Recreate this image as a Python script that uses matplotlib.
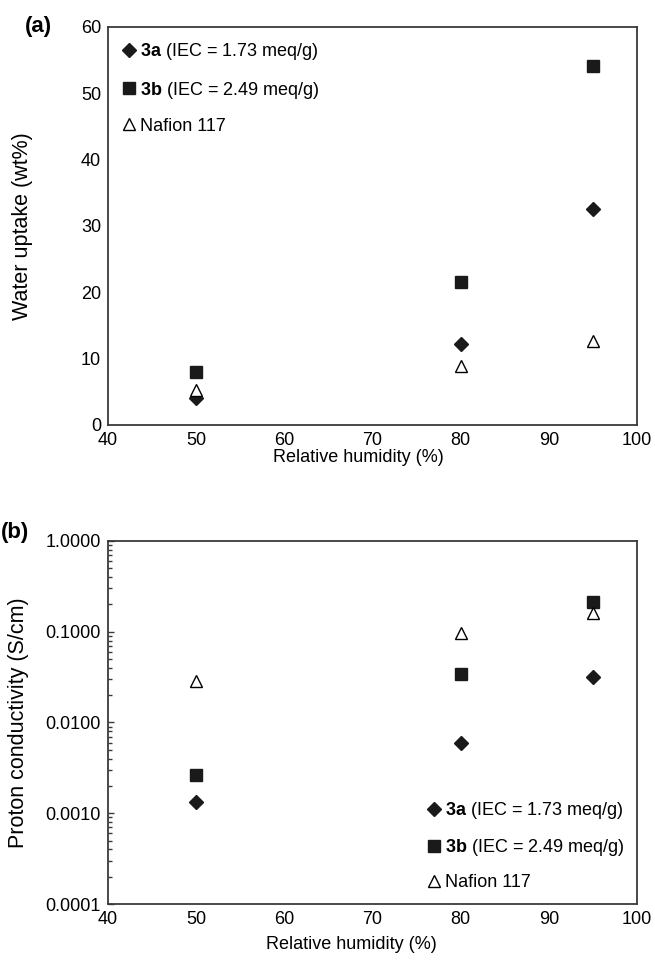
import numpy as np
import matplotlib.pyplot as plt
from matplotlib.ticker import LogLocator, FormatStrFormatter, NullFormatter

plt.rcParams['font.family'] = ['Liberation Sans', 'DejaVu Sans']
plt.rcParams['mathtext.fontset'] = 'custom'
plt.rcParams['mathtext.rm'] = 'Liberation Sans'
plt.rcParams['mathtext.bf'] = 'Liberation Sans:bold'

rh = [50, 80, 95]
# (a) water uptake (wt%)
wu_3a = [4.0, 12.2, 32.6]
wu_3b = [8.0, 21.6, 54.1]
wu_naf = [5.2, 8.9, 12.6]
# (b) proton conductivity (S/cm)
pc_3a = [0.00133, 0.0060, 0.0318]
pc_3b = [0.00262, 0.0346, 0.215]
pc_naf = [0.0285, 0.098, 0.16]

labels = [r'$\mathbf{3a}$ (IEC = 1.73 meq/g)',
          r'$\mathbf{3b}$ (IEC = 2.49 meq/g)',
          'Nafion 117']

fs = 13
fs_y = 15.5
spine_c = '#3a3a3a'

fig = plt.figure(figsize=(6.55, 9.6), dpi=100)
ax1 = fig.add_axes([0.1649, 0.5573, 0.8076, 0.4146])
ax2 = fig.add_axes([0.1649, 0.0583, 0.8076, 0.3782])


def draw(ax, a, b, n):
    h1, = ax.plot(rh, a, ls='none', marker='D', ms=7, color='#1a1a1a')
    h2, = ax.plot(rh, b, ls='none', marker='s', ms=9, color='#1a1a1a')
    h3, = ax.plot(rh, n, ls='none', marker='^', ms=9, mfc='white',
                  mec='black', mew=1)
    for s in ax.spines.values():
        s.set_color(spine_c)
        s.set_linewidth(1.3)
    ax.set_xlim(40, 100)
    ax.set_xticks([40, 50, 60, 70, 80, 90, 100])
    ax.tick_params(labelsize=fs, length=0, pad=5)
    ax.set_xlabel('Relative humidity (%)', fontsize=fs)
    return [h1, h2, h3]


hs = draw(ax1, wu_3a, wu_3b, wu_naf)
ax1.set_ylim(0, 60)
ax1.set_yticks(np.arange(0, 61, 10))
ax1.set_ylabel('Water uptake (wt%)', fontsize=fs_y)
ax1.yaxis.set_label_coords(-0.142, 0.5)
ax1.xaxis.set_label_coords(0.473, -0.061)
ax1.legend(hs, labels, loc='upper left', frameon=False, fontsize=fs,
           handletextpad=0.0, labelspacing=0.95, borderaxespad=0.4,
           handlelength=1.2, bbox_to_anchor=(-0.008, 1.0))
ax1.text(-0.132, 1.0, '(a)', transform=ax1.transAxes, fontsize=16,
         fontweight='bold', ha='center', va='center')

hs = draw(ax2, pc_3a, pc_3b, pc_naf)
ax2.set_yscale('log')
ax2.set_ylim(1e-4, 1)
ax2.yaxis.set_major_locator(LogLocator(base=10, numticks=10))
ax2.yaxis.set_major_formatter(FormatStrFormatter('%.4f'))
ax2.yaxis.set_minor_locator(LogLocator(base=10, subs=np.arange(2, 10), numticks=10))
ax2.yaxis.set_minor_formatter(NullFormatter())
ax2.tick_params(axis='y', which='major', direction='in', length=4, width=1, color=spine_c)
ax2.tick_params(axis='y', which='minor', direction='in', length=3, width=1, color=spine_c)
ax2.set_ylabel('Proton conductivity (S/cm)', fontsize=fs_y)
ax2.yaxis.set_label_coords(-0.149, 0.5)
ax2.xaxis.set_label_coords(0.461, -0.088)
ax2.legend(hs, labels, loc='lower right', frameon=False, fontsize=fs,
           handletextpad=0.0, labelspacing=0.9, borderaxespad=0.3,
           handlelength=1.2)
ax2.text(-0.176, 1.022, '(b)', transform=ax2.transAxes, fontsize=16,
         fontweight='bold', ha='center', va='center')

fig.savefig('out.png', dpi=100)
